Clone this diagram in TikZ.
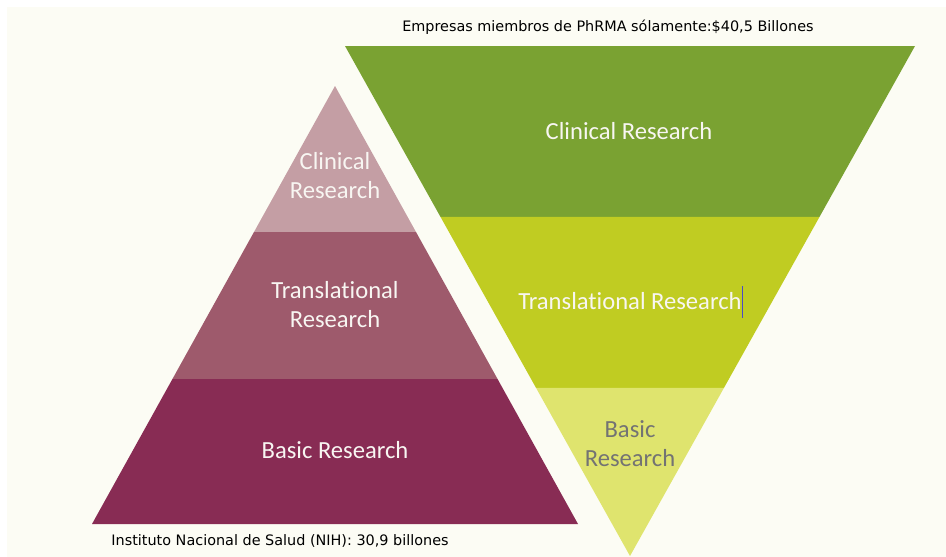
\documentclass[tikz,border=0pt]{standalone}
\usepackage{fontspec}
\usetikzlibrary{calc}
\setmainfont{Carlito}[Ligatures={NoCommon}]
\newfontfamily\capfont{DejaVu Sans}
\definecolor{cream}{HTML}{FCFCF4}
\definecolor{lclin}{HTML}{C49EA4}
\definecolor{ltrans}{HTML}{9E5A6C}
\definecolor{lbasic}{HTML}{882C54}
\definecolor{rclin}{HTML}{7AA232}
\definecolor{rtrans}{HTML}{C0CC22}
\definecolor{rbasic}{HTML}{DFE46E}
\definecolor{txtlight}{HTML}{F8F6F2}
\definecolor{txtgray}{HTML}{737373}
\definecolor{caretcol}{HTML}{4A4AC8}
\begin{document}
\begin{tikzpicture}[x=1pt,y=-1pt,
  lbl/.style={font=\fontsize{24.6}{29}\selectfont, text=txtlight, align=center, inner sep=0pt},
  captext/.style={font=\capfont\fontsize{14.4}{16}\selectfont, text=black, inner sep=0pt}]
\useasboundingbox (0,0) rectangle (946,557);
\fill[white] (0,0) rectangle (946,557);
\fill[cream] (7,7) rectangle (946,557);
% left pyramid: apex (335,86), base y=524 from 92 to 578
\coordinate (LA) at (335,86);
\coordinate (LBL) at (92,524);
\coordinate (LBR) at (578,524);
\fill[lclin] (LA) -- ($(LA)!{(232-86)/(524-86)}!(LBL)$) -- ($(LA)!{(232-86)/(524-86)}!(LBR)$) -- cycle;
\fill[ltrans] ($(LA)!{(232-86)/(524-86)}!(LBL)$) -- ($(LA)!{(379-86)/(524-86)}!(LBL)$) -- ($(LA)!{(379-86)/(524-86)}!(LBR)$) -- ($(LA)!{(232-86)/(524-86)}!(LBR)$) -- cycle;
\fill[lbasic] ($(LA)!{(379-86)/(524-86)}!(LBL)$) -- (LBL) -- (LBR) -- ($(LA)!{(379-86)/(524-86)}!(LBR)$) -- cycle;
% right inverted pyramid: top y=46 from 345 to 915, apex (630,556)
\coordinate (RA) at (630,556);
\coordinate (RTL) at (345,46);
\coordinate (RTR) at (915,46);
\fill[rclin] (RTL) -- (RTR) -- ($(RTR)!{(217-46)/(556-46)}!(RA)$) -- ($(RTL)!{(217-46)/(556-46)}!(RA)$) -- cycle;
\fill[rtrans] ($(RTL)!{(217-46)/(556-46)}!(RA)$) -- ($(RTR)!{(217-46)/(556-46)}!(RA)$) -- ($(RTR)!{(388-46)/(556-46)}!(RA)$) -- ($(RTL)!{(388-46)/(556-46)}!(RA)$) -- cycle;
\fill[rbasic] ($(RTL)!{(388-46)/(556-46)}!(RA)$) -- ($(RTR)!{(388-46)/(556-46)}!(RA)$) -- (RA) -- cycle;
% labels
\node[lbl] (lc) at (335,176) {Clinical\\Research};
\node[lbl] (lt) at (335,305) {Translational\\Research};
\node[lbl] (lb) at (335,450) {Basic Research};
\node[lbl] (rc) at (629,131) {Clinical Research};
\node[lbl] (rt) at (630,301) {Translational Research};
\node[lbl, text=txtgray] (rb) at (630,444) {Basic\\Research};
\draw[caretcol, line width=1pt] (742,286) -- (742,318);
\node[captext] (top) at (608,27) {Empresas miembros de PhRMA sólamente:\$40,5 Billones};
\node[captext] (bot) at (280,541) {Instituto Nacional de Salud (NIH): 30,9 billones};
\end{tikzpicture}
\end{document}
